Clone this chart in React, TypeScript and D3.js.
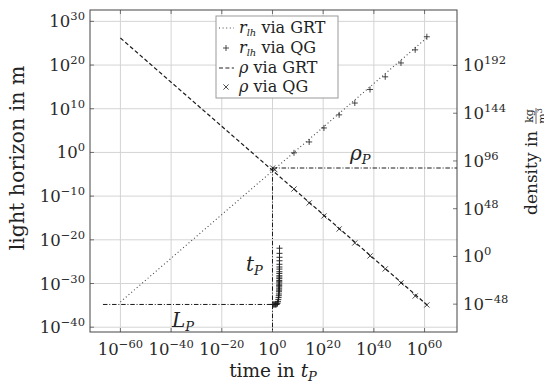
import React from 'react';
import * as d3 from 'd3';

// time in units of t_P
const grtTime = [1e-60, 1e-30, 1, 1e30, 1e61];
const grtHorizon = [6e-35, 6e-20, 6e-5, 6e10, 2e26]; // m
const grtDensity = [4e219, 1e153, 3e86, 1e20, 1.5e-49]; // kg/m^3

// QG samples, late times
const qgLateTime = [3e8, 3e14, 2e20, 2e26, 3e32, 3e38, 3e44, 5e50, 2e56, 8e60];
const qgLateHorizon = [8e-1, 2.5e2, 4e5, 4e8, 2e11, 2.5e14, 2e17, 3e20, 3e23, 3e26];
const qgLateDensity = [6e67, 6e53, 5e40, 4e27, 3e13, 3e0, 2.5e-13, 2e-27, 1.6e-40, 1.6e-49];

// QG samples right after t_P
const qgEarlyDensityTime = [1.2, 8];
const qgEarlyDensity = [8e88, 2e87];
const qgEarlyTime = [600, 590, 580, 570, 560, 550, 540, 530, 520, 510, 500, 490, 480, 470, 460, 450, 440, 430, 420, 400, 380, 350, 300, 250, 200, 150, 100, 60, 30, 15, 8, 4, 2, 1.2];
const qgEarlyHorizon = [1.2e-22, 8e-24, 1e-24, 1.6e-25, 2.5e-26, 6e-27, 2e-27, 5e-28, 2e-28, 6e-29, 3e-29, 1.3e-29, 5e-30, 2.5e-30, 1.3e-30, 5e-31, 3e-31, 1.6e-31, 6e-32, 3e-32, 1.3e-32, 4e-33, 1.6e-33, 6e-34, 2e-34, 7e-35, 3e-35, 2e-35, 1.6e-35, 1.6e-35, 1.6e-35, 1.6e-35, 1.6e-35, 1.6e-35];

// Planck reference lines
const planckLength = 1.6e-35;
const planckDensity = 8e88;
const lpLineStart = 1.3e-67;

// tick exponents
const xTickExp = [-60, -40, -20, 0, 20, 40, 60];
const yLeftTickExp = [-40, -30, -20, -10, 0, 10, 20, 30];
const yRightTickExp = [-48, 0, 48, 96, 144, 192];

const W = 544;
const H = 383;
const L = 90, R = 457, T = 10, B = 332;
const FONT = 'DejaVu Serif';

const x = d3.scaleLog().domain([1e-72, Math.pow(10, 72.8)]).range([L, R]);
const yL = d3.scaleLog().domain([Math.pow(10, -41.1), Math.pow(10, 32.6)]).range([B, T]);
const yR = d3.scaleLog().domain([1e-76, Math.pow(10, 247.8)]).range([B, T]);

const plus = 'M-3,0H3M0,-3V3';
const cross = 'M-2.6,-2.6L2.6,2.6M-2.6,2.6L2.6,-2.6';

const Pow = ({ e, ...rest }: any) => (
  <text fontFamily={FONT} fontSize={16.5} fill="#2a2a2a" {...rest}>
    10<tspan fontSize={11.5} dy={-7}>{e < 0 ? '\u2212' + Math.abs(e) : String(e)}</tspan>
  </text>
);

const App: React.FC = () => {
  const lineL = d3.line<[number, number]>().x(d => x(d[0])).y(d => yL(d[1]));
  const lineR = d3.line<[number, number]>().x(d => x(d[0])).y(d => yR(d[1]));

  const horizonPts = grtTime.map((t, i) => [t, grtHorizon[i]] as [number, number]);
  const densityPts = grtTime.map((t, i) => [t, grtDensity[i]] as [number, number]);

  const yP = yR(planckDensity);
  const yLP = yL(planckLength);
  const xOne = x(1);

  return (
    <div style={{ position: 'absolute', left: 0, top: 0 }}>
      <svg width={W} height={H} viewBox={`0 0 ${W} ${H}`} style={{ display: 'block', background: '#fff' }}>
        <defs>
          <clipPath id="plot">
            <rect x={L} y={T} width={R - L} height={B - T} />
          </clipPath>
        </defs>

        {/* grid */}
        <g stroke="#d4d4d4" strokeWidth={1}>
          {xTickExp.map(e => (
            <line key={'gx' + e} x1={x(Math.pow(10, e))} x2={x(Math.pow(10, e))} y1={T} y2={B} />
          ))}
          {yLeftTickExp.map(e => (
            <line key={'gy' + e} x1={L} x2={R} y1={yL(Math.pow(10, e))} y2={yL(Math.pow(10, e))} />
          ))}
        </g>

        {/* ticks */}
        <g stroke="#555" strokeWidth={0.8}>
          {xTickExp.map(e => {
            const px = x(Math.pow(10, e));
            return (
              <g key={'tx' + e}>
                <line x1={px} x2={px} y1={B} y2={B - 4} />
                <line x1={px} x2={px} y1={T} y2={T + 4} />
              </g>
            );
          })}
          {yLeftTickExp.map(e => {
            const py = yL(Math.pow(10, e));
            return <line key={'tl' + e} x1={L} x2={L + 4} y1={py} y2={py} />;
          })}
          {yRightTickExp.map(e => {
            const py = yR(Math.pow(10, e));
            return <line key={'tr' + e} x1={R} x2={R - 4} y1={py} y2={py} />;
          })}
        </g>

        <g clipPath="url(#plot)" fill="none" stroke="#1a1a1a">
          {/* r_lh via GRT */}
          <path d={lineL(horizonPts) || ''} strokeWidth={1.1} strokeDasharray="1,2.6" stroke="#444" />
          {/* rho via GRT */}
          <path d={lineR(densityPts) || ''} strokeWidth={1.2} strokeDasharray="4,2.4" />

          {/* Planck reference lines */}
          <line x1={x(lpLineStart)} x2={xOne} y1={yLP} y2={yLP} strokeWidth={1} strokeDasharray="4.5,1.8,1,1.8" />
          <line x1={xOne} x2={R} y1={yP} y2={yP} strokeWidth={1} strokeDasharray="4.5,1.8,1,1.8" />
          <line x1={xOne} x2={xOne} y1={yP} y2={B} strokeWidth={1} strokeDasharray="4.5,1.8,1,1.8" />

          {/* r_lh via QG */}
          {qgLateTime.map((t, i) => (
            <path key={'hp' + i} d={plus} transform={`translate(${x(t)},${yL(qgLateHorizon[i])})`} strokeWidth={0.8} />
          ))}
          {qgEarlyTime.map((t, i) => (
            <path key={'he' + i} d={plus} transform={`translate(${x(t)},${yL(qgEarlyHorizon[i])})`} strokeWidth={0.9} />
          ))}
          {/* rho via QG */}
          {qgLateTime.map((t, i) => (
            <path key={'dp' + i} d={cross} transform={`translate(${x(t)},${yR(qgLateDensity[i])})`} strokeWidth={0.8} />
          ))}
          {qgEarlyDensityTime.map((t, i) => (
            <path key={'de' + i} d={cross} transform={`translate(${x(t)},${yR(qgEarlyDensity[i])})`} strokeWidth={0.8} />
          ))}
        </g>

        {/* annotations */}
        <g fontFamily={FONT} fill="#222" fontStyle="italic">
          <text x={350} y={160} fontSize={20}>ρ<tspan fontSize={13} dy={4}>P</tspan></text>
          <text x={246} y={271} fontSize={20}>t<tspan fontSize={13} dy={4}>P</tspan></text>
          <text x={172} y={327} fontSize={20}>L<tspan fontSize={13} dy={4}>P</tspan></text>
        </g>

        {/* frame */}
        <rect x={L} y={T} width={R - L} height={B - T} fill="none" stroke="#444" strokeWidth={1} />

        {/* tick labels */}
        {xTickExp.map(e => (
          <Pow key={'lx' + e} e={e} x={x(Math.pow(10, e))} y={355} textAnchor="middle" />
        ))}
        {yLeftTickExp.map(e => (
          <Pow key={'ll' + e} e={e} x={85} y={yL(Math.pow(10, e)) + 6} textAnchor="end" />
        ))}
        {yRightTickExp.map(e => (
          <Pow key={'lr' + e} e={e} x={463} y={yR(Math.pow(10, e)) + 6} textAnchor="start" />
        ))}

        {/* axis labels */}
        <text x={273} y={377} textAnchor="middle" fontFamily={FONT} fontSize={18.5} fill="#222">
          time in <tspan fontStyle="italic">t</tspan><tspan fontStyle="italic" fontSize={13} dy={4}>P</tspan>
        </text>
        <text transform="translate(24,158) rotate(-90)" textAnchor="middle" fontFamily={FONT} fontSize={20.5} fill="#222">
          light horizon in m
        </text>
        <g transform="translate(537,215) rotate(-90)" fontFamily={FONT} fill="#222">
          <text x={0} y={0} fontSize={17}>density in</text>
          <text x={99} y={-4} fontSize={11} textAnchor="middle">kg</text>
          <line x1={91} x2={107} y1={-1} y2={-1} stroke="#222" strokeWidth={0.7} />
          <text x={99} y={9} fontSize={11} textAnchor="middle">m<tspan fontSize={8} dy={-4}>3</tspan></text>
        </g>

        {/* legend */}
        <g fontFamily={FONT} fill="#222">
          <rect x={216} y={16} width={122} height={82} fill="#fff" stroke="#999" strokeWidth={1} />
          {[28, 48, 68, 87].map((cy, i) => (
            <g key={'lg' + i}>
              {i === 0 && <line x1={219} x2={234} y1={cy} y2={cy} stroke="#444" strokeWidth={1.1} strokeDasharray="1,2.6" />}
              {i === 1 && <path d={plus} transform={`translate(226,${cy})`} stroke="#222" strokeWidth={0.8} />}
              {i === 2 && <line x1={219} x2={234} y1={cy} y2={cy} stroke="#222" strokeWidth={1.2} strokeDasharray="4,2.4" />}
              {i === 3 && <path d={cross} transform={`translate(226,${cy})`} stroke="#222" strokeWidth={0.8} />}
              <text x={239} y={cy + 5} fontSize={16}>
                {i < 2 ? (
                  <>
                    <tspan fontStyle="italic">r</tspan>
                    <tspan fontStyle="italic" fontSize={10} dy={2.5}>lh</tspan>
                    <tspan dy={-2.5}>{i === 0 ? ' via GRT' : ' via QG'}</tspan>
                  </>
                ) : (
                  <>
                    <tspan fontStyle="italic">ρ</tspan>
                    <tspan>{i === 2 ? ' via GRT' : ' via QG'}</tspan>
                  </>
                )}
              </text>
            </g>
          ))}
        </g>
      </svg>
    </div>
  );
};

export default App;
